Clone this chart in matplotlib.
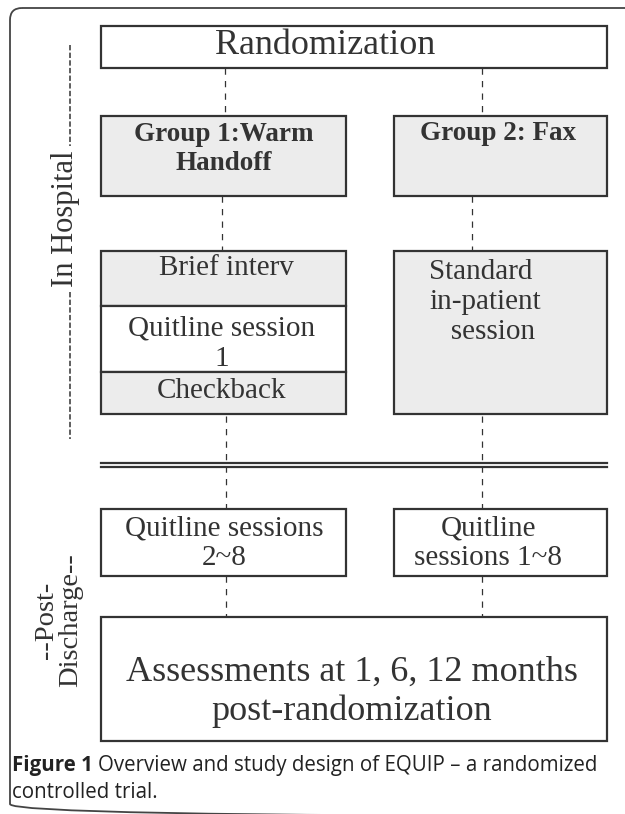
import matplotlib.pyplot as plt
from matplotlib.patches import Rectangle, FancyBboxPatch

# boxes: (left, top, right, bottom, fill)
boxes = [
    (101, 26, 607, 68, 'white'),      # Randomization
    (101, 116, 346, 196, '#ececec'),  # Group 1
    (394, 116, 607, 196, '#ececec'),  # Group 2
    (101, 251, 346, 306, '#ececec'),  # Brief interv
    (101, 306, 346, 372, 'white'),    # Quitline session 1
    (101, 372, 346, 414, '#ececec'),  # Checkback
    (394, 251, 607, 414, '#ececec'),  # Standard
    (101, 509, 346, 576, 'white'),    # Quitline 2~8
    (394, 509, 607, 576, 'white'),    # Quitline 1~8
    (101, 617, 607, 741, 'white'),    # Assessments
]

# dashed connectors: (x, y_top, y_bottom)
links = [
    (225, 68, 116), (482, 68, 116),
    (222, 196, 251), (472, 196, 251),
    (226, 416, 509), (482, 416, 509),
    (226, 576, 617), (482, 576, 617),
]

# texts: (x, y, string, size, weight, ha)
texts = [
    (325, 46, 'Randomization', 26, 'normal', 'center'),
    (224, 149, 'Group 1:Warm\nHandoff', 19.5, 'bold', 'center'),
    (498, 133, 'Group 2: Fax', 19.5, 'bold', 'center'),
    (226, 268, 'Brief interv', 21, 'normal', 'center'),
    (222, 344, 'Quitline session\n1', 21, 'normal', 'center'),
    (222, 391, 'Checkback', 21, 'normal', 'center'),
    (429, 302, 'Standard\nin-patient\n   session', 21, 'normal', 'left'),
    (224, 543, 'Quitline sessions\n2~8', 21, 'normal', 'center'),
    (488, 543, 'Quitline\nsessions 1~8', 21, 'normal', 'center'),
    (352, 692, 'Assessments at 1, 6, 12 months\npost-randomization', 26, 'normal', 'center'),
]

ink = '#333333'

fig = plt.figure(figsize=(6.25, 8.14), dpi=100)
ax = fig.add_axes([0, 0, 1, 1])
ax.set_xlim(0, 625)
ax.set_ylim(814, 0)
ax.axis('off')

# outer frame (right and bottom edges fall outside the picture)
ax.add_patch(FancyBboxPatch((10, 8), 640, 808, boxstyle='round,pad=0,rounding_size=12',
                            fill=False, ec='#444444', lw=1.3))

for l, t, r, b, fc in boxes:
    ax.add_patch(Rectangle((l, t), r - l, b - t, fc=fc, ec=ink, lw=1.6))

for x, y0, y1 in links:
    ax.plot([x, x], [y0, y1], color=ink, lw=0.9, dashes=(5, 5))

# separator between in-hospital and post-discharge
ax.plot([101, 607], [463, 463], color=ink, lw=1.6)
ax.plot([101, 607], [467, 467], color=ink, lw=1.6)

for x, y, s, size, w, ha in texts:
    ax.text(x, y, s, fontsize=size, fontweight=w, ha=ha, va='center',
            family='Liberation Serif', color=ink, linespacing=1.2)

# side labels
ax.plot([70, 70], [45, 146], color=ink, lw=1.1, dashes=(3.5, 1.5))
ax.plot([70, 70], [292, 439], color=ink, lw=1.1, dashes=(3.5, 1.5))
ax.text(65, 219, 'In Hospital', rotation=90, fontsize=22, ha='center', va='center',
        family='Liberation Serif', color=ink)
ax.text(59, 620, '--Post-\nDischarge--', rotation=90, fontsize=20.5, ha='center', va='center',
        family='Liberation Serif', color=ink, linespacing=0.95)

# caption
cap = '#222222'
t1 = ax.text(12, 766, 'Figure 1', fontsize=14.8, fontweight='bold', ha='left', va='center',
             family='Open Sans', color=cap)
fig.canvas.draw()
bb = t1.get_window_extent()
x_end = ax.transData.inverted().transform((bb.x1, bb.y0))[0]
ax.text(x_end + 5, 766, 'Overview and study design of EQUIP \u2013 a randomized',
        fontsize=14.8, ha='left', va='center', family='Open Sans', color=cap)
ax.text(12, 792, 'controlled trial.', fontsize=14.8, ha='left', va='center',
        family='Open Sans', color=cap)

fig.savefig('out.png', dpi=100)
